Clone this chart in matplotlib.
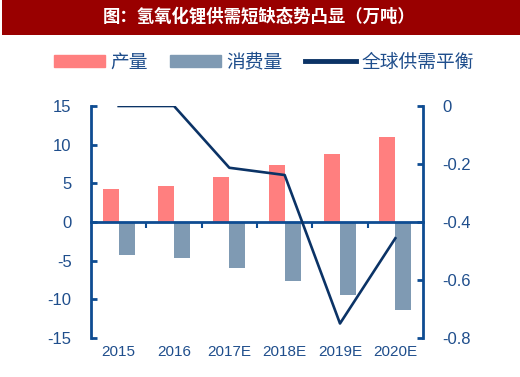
import matplotlib
matplotlib.use("Agg")
import matplotlib.pyplot as plt
import matplotlib.patches as mpatches
from matplotlib.lines import Line2D
import numpy as np

categories = ["2015", "2016", "2017E", "2018E", "2019E", "2020E"]
production = [4.3, 4.65, 5.85, 7.35, 8.85, 11.0]
consumption = [-4.3, -4.65, -6.0, -7.6, -9.45, -11.4]
balance = [0.0, 0.0, -0.213, -0.238, -0.75, -0.456]
left_ticks = [15, 10, 5, 0, -5, -10, -15]
right_ticks = [0, -0.2, -0.4, -0.6, -0.8]
title = "图：氢氧化锂供需短缺态势凸显（万吨）"
legend_labels = ["产量", "消费量", "全球供需平衡"]

plt.rcParams['font.family'] = ['Noto Sans CJK SC', 'DejaVu Sans']

PINK = "#FF7F7F"
GRAY = "#7F9AB3"
NAVY = "#0B3366"
AXC = "#0E4C92"
TXT = "#1F4E8C"

W, H = 520, 377
fig = plt.figure(figsize=(W / 100, H / 100), dpi=100)
fig.patch.set_facecolor("white")

# title banner
fig.patches.append(mpatches.Rectangle((2 / W, 1 - 35 / H), 1 - 2 / W, 35 / H,
                                      transform=fig.transFigure, facecolor="#990000",
                                      edgecolor="none", zorder=0))
fig.text(259 / W, 1 - 17 / H, title, color="white", fontsize=12.5, fontweight="bold",
         ha="center", va="center")

ax = fig.add_axes([91 / W, 1 - 338 / H, 332 / W, 232 / H])
x = np.arange(len(categories))
bw = 0.29
ax.bar(x - bw / 2, production, width=bw, color=PINK, zorder=2)
ax.bar(x + bw / 2, consumption, width=bw, color=GRAY, zorder=2)
ax.set_xlim(-0.5, len(categories) - 0.5)
ax.set_ylim(-15, 15)
ax.set_yticks(left_ticks)
ax.set_yticklabels([str(t) for t in left_ticks])

ax.spines["top"].set_visible(False)
ax.spines["right"].set_visible(False)
ax.spines["left"].set_color(AXC)
ax.spines["left"].set_linewidth(2)
ax.spines["bottom"].set_position(("data", 0))
ax.spines["bottom"].set_color(AXC)
ax.spines["bottom"].set_linewidth(2)
ax.spines["bottom"].set_zorder(3)
ax.set_xticks(np.arange(len(categories) - 1) + 0.5)
ax.set_xticklabels([])
ax.tick_params(axis="x", direction="out", length=4, width=1.5, color=AXC)
ax.tick_params(axis="y", direction="in", length=4, width=2, color=AXC,
               labelcolor=TXT, labelsize=12, pad=14)
for lab in ax.get_yticklabels():
    lab.set_fontfamily(["Liberation Sans", "DejaVu Sans"])

for i, c in enumerate(categories):
    ax.text(i, -0.06, c, transform=ax.get_xaxis_transform(), ha="center", va="center",
            color=TXT, fontsize=11, family=["Liberation Sans", "DejaVu Sans"])

ax2 = ax.twinx()
ax2.plot(x, balance, color=NAVY, linewidth=1.9, zorder=4)
ax2.set_ylim(-0.8, 0)
ax2.set_yticks(right_ticks)
ax2.set_yticklabels(["0" if t == 0 else f"{t:.1f}" for t in right_ticks])
for s in ["top", "bottom", "left"]:
    ax2.spines[s].set_visible(False)
ax2.spines["right"].set_color(AXC)
ax2.spines["right"].set_linewidth(2)
ax2.tick_params(axis="y", direction="in", length=4, width=2, color=AXC,
                labelcolor=TXT, labelsize=12, pad=14)
for lab in ax2.get_yticklabels():
    lab.set_fontfamily(["Liberation Sans", "DejaVu Sans"])

handles = [mpatches.Patch(color=PINK), mpatches.Patch(color=GRAY),
           Line2D([0], [0], color=NAVY, linewidth=3.5)]
fig.legend(handles, legend_labels, loc="center", bbox_to_anchor=(264 / W, 1 - 62 / H),
           ncol=3, frameon=False, fontsize=13.5, labelcolor=TXT, handlelength=2.7,
           handleheight=0.55, handletextpad=0.3, columnspacing=1.2)

fig.savefig("out.png", dpi=100)
